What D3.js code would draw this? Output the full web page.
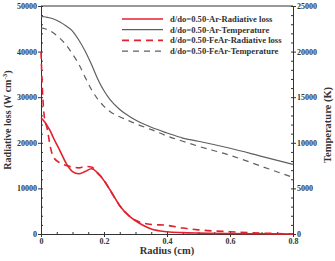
<!DOCTYPE html>
<html>
<head>
<meta charset="utf-8">
<script src="https://cdn.jsdelivr.net/npm/d3@7"></script>
<style>
  body { margin: 0; background: #fff; }
  text { font-family: "Liberation Serif", "Times New Roman", serif; font-weight: bold; }
</style>
</head>
<body>
<div id="chart"></div>
<script>
// radius (cm)
var radius = [0, 0.005, 0.01, 0.02, 0.03, 0.04, 0.06, 0.08, 0.10, 0.12, 0.14, 0.16, 0.18, 0.20,
              0.22, 0.25, 0.28, 0.30, 0.35, 0.40, 0.45, 0.50, 0.60, 0.70, 0.80];

// radiative loss (W cm^-3), left axis
var arRad   = [25400, 25100, 24700, 23700, 22500, 21000, 18300, 15500, 13700, 13200, 13700, 14300, 13400, 11700,
               9600, 6200, 3900, 2900, 1100, 500, 300, 200, 100, 50, 0];
var feArRad = [40000, 31000, 26000, 23000, 19000, 16800, 15600, 15000, 14700, 14500, 14800, 14700, 13300, 11800,
               9500, 6200, 4000, 3000, 2100, 1900, 1300, 900, 500, 200, 0];

// temperature (K), right axis
var arTemp   = [23850, 23840, 23820, 23760, 23680, 23570, 23240, 22800, 22250, 21270, 20060, 18600, 17000, 15700,
                14700, 13650, 12900, 12500, 11700, 11080, 10520, 10170, 9400, 8520, 7640];
var feArTemp = [22580, 22570, 22530, 22420, 22250, 22030, 21450, 20720, 19730, 18630, 17200, 15850, 14800, 14000,
                13400, 12850, 12400, 12100, 11450, 10750, 10170, 9620, 8630, 7420, 6210];

var xTicks = [0, 0.2, 0.4, 0.6, 0.8];
var leftTicks = [0, 10000, 20000, 30000, 40000, 50000];
var rightTicks = [0, 5000, 10000, 15000, 20000, 25000];

var legendLabels = ["d/do=0.50-Ar-Radiative loss", "d/do=0.50-Ar-Temperature",
                    "d/do=0.50-FeAr-Radiative loss", "d/do=0.50-FeAr-Temperature"];

var red = "#e3202c", gray = "#5f5f5f";

var W = 335, H = 261;
var pLeft = 41, pRight = 293, pTop = 6, pBottom = 234;

var svg = d3.select("#chart").append("svg").attr("width", W).attr("height", H);

var x = d3.scaleLinear().domain([0, 0.8]).range([pLeft, pRight]);
var yL = d3.scaleLinear().domain([0, 50000]).range([pBottom, pTop]);
var yR = d3.scaleLinear().domain([0, 25000]).range([pBottom, pTop]);

function styleAxis(g) {
  g.selectAll("path").attr("stroke", "#333").attr("stroke-width", 1);
  g.selectAll("line").attr("stroke", "#333");
  g.selectAll("text").attr("fill", "#333").style("font-size", "8px");
}

// minor ticks (inward)
svg.append("g").attr("transform", "translate(" + pLeft + ",0)")
  .call(d3.axisRight(yL).tickValues(d3.range(0, 50001, 2000)).tickSize(2).tickFormat(""))
  .call(styleAxis);
svg.append("g").attr("transform", "translate(" + pRight + ",0)")
  .call(d3.axisLeft(yR).tickValues(d3.range(0, 25001, 1000)).tickSize(2).tickFormat(""))
  .call(styleAxis);
svg.append("g").attr("transform", "translate(0," + pBottom + ")")
  .call(d3.axisTop(x).tickValues(d3.range(0, 0.8001, 0.05)).tickSize(2).tickFormat(""))
  .call(styleAxis);

// major axes
svg.append("g").attr("transform", "translate(" + pLeft + ",0)")
  .call(d3.axisLeft(yL).tickValues(leftTicks).tickSize(3).tickPadding(1).tickFormat(d3.format("d")))
  .call(styleAxis);
svg.append("g").attr("transform", "translate(" + pRight + ",0)")
  .call(d3.axisRight(yR).tickValues(rightTicks).tickSize(3).tickPadding(1).tickFormat(d3.format("d")))
  .call(styleAxis);
svg.append("g").attr("transform", "translate(0," + pBottom + ")")
  .call(d3.axisBottom(x).tickValues(xTicks).tickSize(3).tickPadding(1)
    .tickFormat(function(d) { return d === 0 ? "0" : d3.format(".1f")(d); }))
  .call(styleAxis);

// top border
svg.append("line").attr("x1", pLeft).attr("x2", pRight).attr("y1", pTop).attr("y2", pTop)
  .attr("stroke", "#333").attr("stroke-width", 1);

// axis titles
svg.append("text").attr("x", (pLeft + pRight) / 2).attr("y", 254).attr("text-anchor", "middle")
  .style("font-size", "10.5px").attr("fill", "#333").text("Radius (cm)");

var yt = svg.append("text").attr("transform", "translate(11,120) rotate(-90)")
  .attr("text-anchor", "middle").style("font-size", "10px").attr("fill", "#333");
yt.append("tspan").text("Radiative loss (W cm");
yt.append("tspan").attr("dy", -4).style("font-size", "7px").text("-3");
yt.append("tspan").attr("dy", 4).text(")");

svg.append("text").attr("transform", "translate(331,125) rotate(-90)")
  .attr("text-anchor", "middle").style("font-size", "10.5px").attr("fill", "#333").text("Temperature (K)");

// series
var series = [
  { values: arRad, scale: yL, color: red, width: 1.6, dash: null },
  { values: arTemp, scale: yR, color: gray, width: 1.2, dash: null },
  { values: feArRad, scale: yL, color: red, width: 1.6, dash: "7,5" },
  { values: feArTemp, scale: yR, color: gray, width: 1.2, dash: "6,5" }
];

series.forEach(function(s) {
  var line = d3.line()
    .x(function(d, i) { return x(radius[i]); })
    .y(function(d) { return s.scale(d); })
    .curve(d3.curveMonotoneX);
  svg.append("path").datum(s.values)
    .attr("d", line)
    .attr("fill", "none")
    .attr("stroke", s.color)
    .attr("stroke-width", s.width)
    .attr("stroke-dasharray", s.dash);
});

// legend
var legend = svg.append("g");
series.forEach(function(s, i) {
  var ly = 19 + i * 10.7;
  legend.append("line").attr("x1", 122).attr("x2", 163).attr("y1", ly).attr("y2", ly)
    .attr("stroke", s.color).attr("stroke-width", s.width).attr("stroke-dasharray", s.dash);
  legend.append("text").attr("x", 170).attr("y", ly + 3)
    .style("font-size", "8.6px").attr("fill", "#333").text(legendLabels[i]);
});
</script>
</body>
</html>
